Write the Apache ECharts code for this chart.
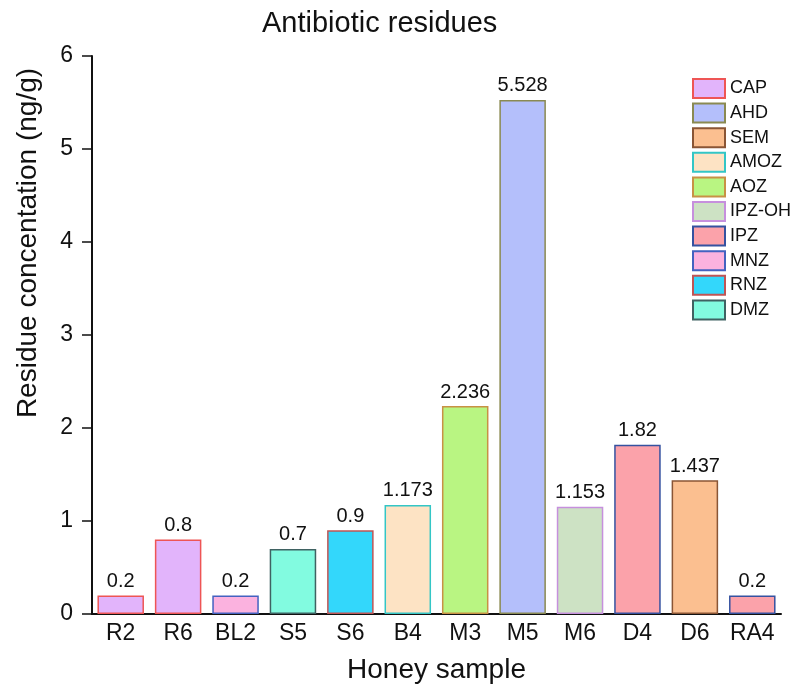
<!DOCTYPE html>
<html>
<head>
<meta charset="utf-8">
<script src="https://cdn.jsdelivr.net/npm/echarts@6/dist/echarts.min.js"></script>
<style>
html, body { margin: 0; padding: 0; background: #fff; }
#main { width: 791px; height: 692px; }
</style>
</head>
<body>
<div id="main"></div>
<script>
// 样本 / 残留值 / 对应抗生素
var samples = ['R2', 'R6', 'BL2', 'S5', 'S6', 'B4', 'M3', 'M5', 'M6', 'D4', 'D6', 'RA4'];
var residues = [0.2, 0.8, 0.2, 0.7, 0.9, 1.173, 2.236, 5.528, 1.153, 1.82, 1.437, 0.2];
var sampleDrug = ['CAP', 'CAP', 'MNZ', 'DMZ', 'RNZ', 'AMOZ', 'AOZ', 'AHD', 'IPZ-OH', 'IPZ', 'SEM', 'IPZ'];
var drugs = ['CAP', 'AHD', 'SEM', 'AMOZ', 'AOZ', 'IPZ-OH', 'IPZ', 'MNZ', 'RNZ', 'DMZ'];
var yTicks = [0, 1, 2, 3, 4, 5, 6];

var fills = ['#e2b4fb', '#b4bffb', '#fbbf90', '#fde3c4', '#b9f582', '#cde2c4', '#fba2aa', '#fbb2df', '#33d7fb', '#82fbe0'];
var borders = ['#ee5555', '#8a8a52', '#8a5535', '#33c6c6', '#c89145', '#c690dd', '#3552a0', '#4462c0', '#c05555', '#3f6262'];

var myChart = echarts.init(document.getElementById('main'));

var series = drugs.map(function (d, k) {
    return {
        name: d,
        type: 'bar',
        stack: 'all',
        barWidth: '81%',
        itemStyle: { color: fills[k], borderColor: borders[k], borderWidth: 1.5 },
        label: {
            show: true, position: 'top', distance: 4,
            color: '#111', fontSize: 20, fontFamily: 'Liberation Sans',
            formatter: function (p) { return p.value; }
        },
        data: residues.map(function (v, i) { return sampleDrug[i] === d ? v : '-'; })
    };
});

var option = {
    animation: false,
    backgroundColor: '#fff',
    textStyle: { fontFamily: 'Liberation Sans' },
    title: {
        text: 'Antibiotic residues',
        left: 262, top: 9, padding: 0,
        textStyle: { fontSize: 29, fontWeight: 'normal', color: '#111', fontFamily: 'Liberation Sans' }
    },
    legend: {
        data: drugs,
        orient: 'vertical',
        left: 692, top: 78, padding: 0,
        itemWidth: 32, itemHeight: 19, itemGap: 3.6,
        icon: 'rect',
        textStyle: { fontSize: 18, lineHeight: 19, color: '#111', padding: [0, 0, 0, 0] }
    },
    // y轴标题放在轴的上半部
    graphic: [{
        type: 'text',
        x: 28, y: 243,
        rotation: Math.PI / 2,
        style: {
            text: 'Residue concentation (ng/g)',
            fontSize: 28, fontFamily: 'Liberation Sans', fill: '#111',
            align: 'center', verticalAlign: 'middle'
        }
    }],
    grid: { left: 92, right: 10, top: 56, bottom: 78 },
    xAxis: {
        type: 'category',
        data: samples,
        name: 'Honey sample',
        nameLocation: 'middle',
        nameGap: 42,
        nameTextStyle: { fontSize: 28, color: '#111', verticalAlign: 'top' },
        axisLine: { lineStyle: { color: '#111', width: 2 } },
        axisTick: { show: false },
        axisLabel: { interval: 0, fontSize: 23, color: '#111', margin: 8 }
    },
    yAxis: {
        type: 'value',
        min: yTicks[0], max: yTicks[yTicks.length - 1], interval: 1,
        axisLine: { show: true, lineStyle: { color: '#111', width: 2 } },
        axisTick: { show: true, length: 10, lineStyle: { color: '#111', width: 1.5 } },
        axisLabel: { fontSize: 23, color: '#111', margin: 19 },
        splitLine: { show: false }
    },
    series: series
};
myChart.setOption(option, true);
</script>
</body>
</html>
